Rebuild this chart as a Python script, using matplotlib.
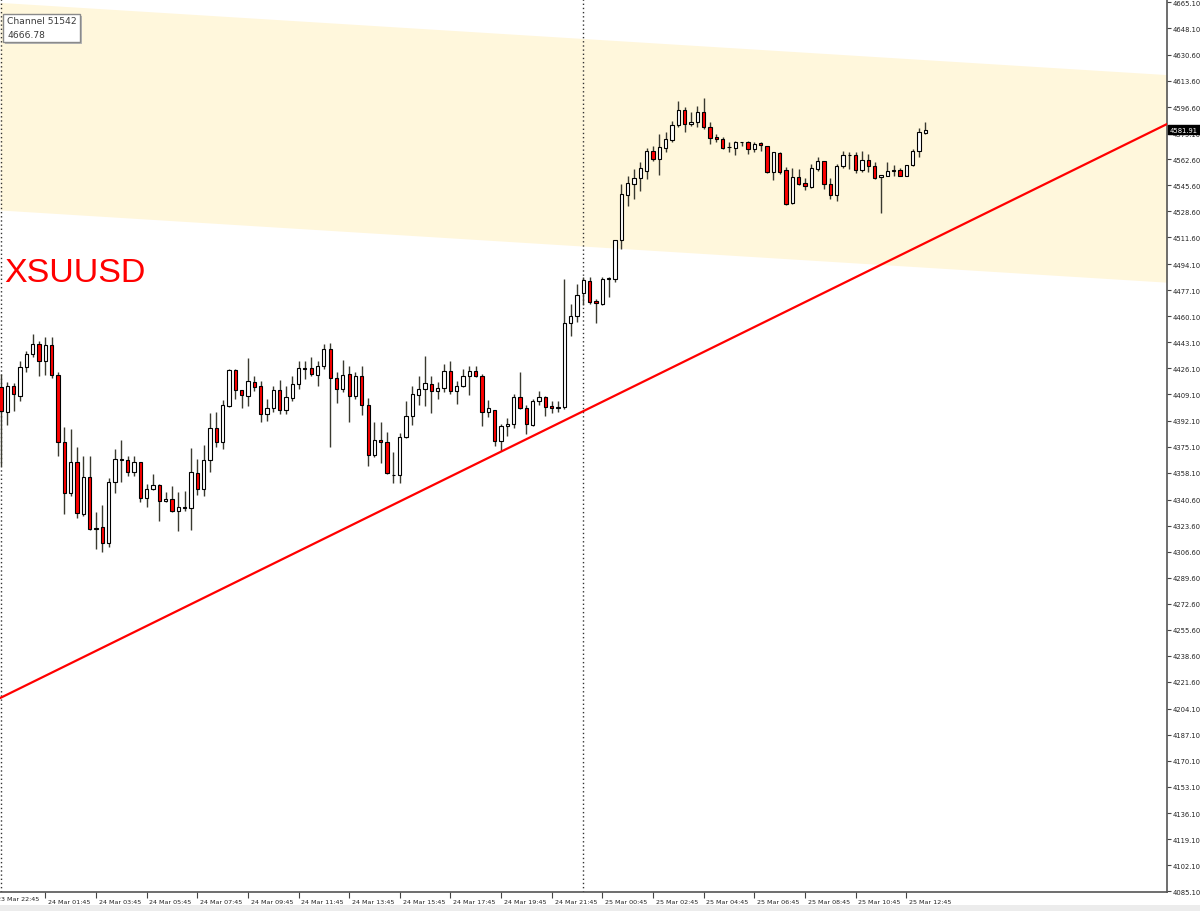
import numpy as np
import matplotlib.pyplot as plt
import matplotlib.transforms as mtransforms
from matplotlib.patches import Rectangle

symbol = "XSUUSD"

# 15 minute bars
opens = [4413.8, 4397.9, 4414.4, 4408.3, 4426.8, 4435.5, 4442.0, 4430.7, 4441.4, 4422.0,
         4378.3, 4344.7, 4364.9, 4331.2, 4355.1, 4321.4, 4322.5, 4312.0, 4352.2, 4366.8,
         4366.2, 4358.4, 4364.9, 4341.6, 4347.3, 4350.1, 4339.4, 4341.1, 4333.3, 4335.4,
         4334.9, 4358.1, 4347.5, 4366.2, 4387.1, 4377.9, 4401.8, 4424.9, 4412.2, 4408.1,
         4417.1, 4414.4, 4396.4, 4400.1, 4411.8, 4399.0, 4407.1, 4416.0, 4426.2, 4426.2,
         4422.0, 4427.9, 4438.8, 4419.7, 4412.7, 4422.5, 4407.9, 4421.0, 4402.4, 4369.8,
         4379.4, 4378.3, 4356.6, 4356.8, 4381.2, 4395.3, 4408.8, 4412.7, 4416.0, 4411.2,
         4413.1, 4424.6, 4411.6, 4414.4, 4421.0, 4424.2, 4421.0, 4397.5, 4399.0, 4378.6,
         4388.4, 4389.9, 4407.7, 4400.1, 4389.2, 4404.7, 4407.3, 4401.6, 4400.1, 4400.7,
         4455.5, 4460.1, 4475.3, 4483.2, 4470.3, 4468.1, 4484.4, 4484.4, 4509.9, 4539.2,
         4546.4, 4550.1, 4555.0, 4568.1, 4562.7, 4569.7, 4575.3, 4584.9, 4594.7, 4585.5,
         4587.0, 4593.2, 4583.8, 4576.9, 4575.8, 4570.4, 4569.7, 4573.8, 4574.0, 4569.2,
         4573.2, 4571.4, 4554.4, 4566.4, 4555.7, 4534.0, 4550.7, 4546.9, 4544.6, 4556.2,
         4561.4, 4546.4, 4539.2, 4558.3, 4565.3, 4565.3, 4555.7, 4562.3, 4557.9, 4550.7,
         4551.4, 4555.1, 4555.5, 4551.8, 4558.8, 4567.7, 4579.7]
highs = [4422.5, 4417.1, 4416.6, 4431.1, 4437.7, 4448.5, 4444.2, 4446.4, 4446.4, 4424.0,
         4387.7, 4386.6, 4374.6, 4369.2, 4369.2, 4332.3, 4337.0, 4354.5, 4373.5, 4379.4,
         4368.8, 4368.8, 4365.3, 4350.7, 4357.2, 4350.7, 4345.3, 4349.6, 4345.7, 4346.4,
         4374.0, 4367.0, 4376.2, 4397.0, 4397.5, 4405.7, 4425.7, 4425.7, 4412.2, 4432.7,
         4421.0, 4417.7, 4406.1, 4414.8, 4418.7, 4414.8, 4421.4, 4431.1, 4430.7, 4433.4,
         4431.1, 4442.0, 4442.7, 4423.6, 4431.8, 4427.9, 4423.6, 4427.9, 4406.6, 4391.0,
         4391.0, 4384.5, 4371.4, 4384.0, 4405.0, 4414.8, 4421.0, 4434.0, 4421.4, 4417.1,
         4429.0, 4431.1, 4418.1, 4425.7, 4427.9, 4427.9, 4422.5, 4405.5, 4399.0, 4389.9,
         4393.8, 4409.4, 4424.0, 4402.3, 4406.1, 4411.6, 4407.9, 4404.7, 4404.7, 4484.4,
         4468.1, 4481.2, 4485.8, 4485.5, 4471.4, 4485.5, 4485.5, 4509.9, 4546.4, 4551.4,
         4556.2, 4561.0, 4569.7, 4571.4, 4579.0, 4580.1, 4587.7, 4600.8, 4596.5, 4593.2,
         4597.5, 4602.3, 4586.6, 4579.0, 4576.9, 4573.6, 4574.7, 4574.0, 4574.7, 4574.0,
         4573.6, 4571.4, 4567.5, 4567.1, 4557.3, 4556.7, 4556.2, 4550.1, 4559.4, 4563.8,
         4561.6, 4550.1, 4559.4, 4568.1, 4567.1, 4567.5, 4568.1, 4566.0, 4560.6, 4552.3,
         4560.6, 4558.8, 4556.6, 4558.8, 4569.2, 4582.7, 4586.6]
lows = [4362.6, 4389.2, 4398.5, 4405.0, 4423.6, 4433.4, 4421.4, 4421.8, 4419.7, 4369.2,
        4331.2, 4343.1, 4328.5, 4330.1, 4320.9, 4308.3, 4306.2, 4309.4, 4344.8, 4352.2,
        4356.1, 4356.1, 4339.2, 4335.5, 4347.0, 4326.4, 4338.8, 4332.3, 4319.9, 4333.3,
        4320.9, 4343.5, 4343.1, 4358.7, 4374.6, 4373.5, 4400.8, 4406.2, 4400.1, 4401.8,
        4411.6, 4391.0, 4392.0, 4397.9, 4396.4, 4396.4, 4405.0, 4412.7, 4419.2, 4421.4,
        4414.8, 4425.7, 4374.6, 4403.5, 4410.5, 4390.9, 4406.1, 4395.9, 4362.3, 4368.1,
        4364.4, 4357.2, 4351.4, 4351.4, 4380.5, 4389.2, 4402.3, 4401.8, 4397.0, 4406.1,
        4410.5, 4409.4, 4402.9, 4413.8, 4408.8, 4420.3, 4388.4, 4394.2, 4375.3, 4372.0,
        4382.2, 4387.2, 4399.6, 4383.3, 4388.7, 4402.4, 4395.3, 4397.0, 4397.5, 4399.6,
        4447.5, 4456.2, 4467.5, 4468.1, 4455.7, 4467.5, 4472.5, 4482.7, 4504.0, 4532.3,
        4536.5, 4542.0, 4549.7, 4561.6, 4552.3, 4567.1, 4573.6, 4583.4, 4580.1, 4584.0,
        4583.4, 4582.3, 4572.5, 4573.6, 4569.2, 4567.1, 4565.5, 4571.4, 4566.0, 4567.1,
        4568.1, 4553.6, 4549.2, 4552.9, 4532.9, 4533.5, 4545.7, 4542.7, 4543.9, 4555.1,
        4543.1, 4536.6, 4535.5, 4556.6, 4556.2, 4553.6, 4554.4, 4554.4, 4549.7, 4527.5,
        4551.4, 4551.4, 4551.4, 4551.4, 4557.9, 4563.8, 4579.0]
closes = [4398.5, 4414.8, 4409.4, 4426.8, 4435.5, 4442.0, 4430.7, 4441.4, 4422.0, 4378.3,
          4344.7, 4364.9, 4331.6, 4355.1, 4321.4, 4322.2, 4312.0, 4351.8, 4367.0, 4366.6,
          4358.7, 4364.9, 4341.6, 4347.3, 4349.9, 4339.4, 4341.1, 4333.1, 4335.5, 4335.2,
          4358.7, 4347.5, 4366.2, 4387.1, 4377.9, 4402.1, 4424.9, 4412.2, 4408.6, 4417.9,
          4414.2, 4396.2, 4400.5, 4411.8, 4398.8, 4407.3, 4416.0, 4426.2, 4426.0, 4422.4,
          4427.5, 4438.8, 4419.7, 4412.7, 4421.8, 4408.3, 4421.0, 4402.4, 4369.8, 4379.4,
          4378.3, 4357.7, 4356.4, 4381.2, 4395.3, 4409.4, 4412.7, 4416.4, 4411.2, 4413.1,
          4424.6, 4411.6, 4414.4, 4421.0, 4424.6, 4421.4, 4397.5, 4400.1, 4378.6, 4388.4,
          4389.9, 4407.3, 4400.1, 4389.9, 4405.0, 4407.3, 4401.1, 4400.3, 4401.1, 4455.7,
          4460.1, 4474.2, 4483.8, 4469.7, 4468.6, 4484.4, 4484.9, 4509.9, 4539.9, 4546.9,
          4550.1, 4556.7, 4568.1, 4562.7, 4570.4, 4575.8, 4584.9, 4594.7, 4585.5, 4587.0,
          4593.2, 4583.4, 4576.4, 4575.8, 4569.7, 4570.3, 4574.0, 4574.0, 4569.2, 4572.5,
          4571.9, 4554.0, 4567.1, 4554.0, 4533.3, 4550.7, 4546.4, 4544.9, 4556.7, 4561.4,
          4546.4, 4539.2, 4558.3, 4565.3, 4565.2, 4555.7, 4562.3, 4558.3, 4550.1, 4552.3,
          4555.1, 4555.2, 4551.8, 4558.8, 4567.7, 4580.1, 4581.91]

time_ticks = [-1, 7, 15, 23, 31, 39, 47, 55, 63, 71, 79, 87, 95, 103, 111, 119, 127, 135, 143]
time_labels = ["23 Mar 22:45", "24 Mar 01:45", "24 Mar 03:45", "24 Mar 05:45", "24 Mar 07:45",
               "24 Mar 09:45", "24 Mar 11:45", "24 Mar 13:45", "24 Mar 15:45", "24 Mar 17:45",
               "24 Mar 19:45", "24 Mar 21:45", "25 Mar 00:45", "25 Mar 02:45", "25 Mar 04:45",
               "25 Mar 06:45", "25 Mar 08:45", "25 Mar 10:45", "25 Mar 12:45"]
price_ticks = [4665.10, 4648.10, 4630.60, 4613.60, 4596.60, 4579.10, 4562.60, 4545.60, 4528.60,
               4511.60, 4494.10, 4477.10, 4460.10, 4443.10, 4426.10, 4409.10, 4392.10, 4375.10,
               4358.10, 4340.60, 4323.60, 4306.60, 4289.60, 4272.60, 4255.60, 4238.60, 4221.60,
               4204.10, 4187.10, 4170.10, 4153.10, 4136.10, 4119.10, 4102.10, 4085.10]

day_separators = [0, 92]
channel_bars = [0, 184]
channel_top = [4664.8, 4617.8]
channel_bottom = [4529.4, 4482.4]
trend_bars = [0, 184]
trend_prices = [4211.4, 4585.1]
last_price = 4581.91

XMIN, XMAX = -0.16, 184.2

fig = plt.figure(figsize=(12, 9.12), dpi=100)
ax = fig.add_axes([0, 19 / 912, 1167 / 1200, 893 / 912])

# axes styling first (set_xticks would widen the view)
for side in ["left", "top"]:
    ax.spines[side].set_visible(False)
for side in ["right", "bottom"]:
    ax.spines[side].set_color("#555555")
    ax.spines[side].set_linewidth(1.2)
ax.yaxis.tick_right()
ax.set_yticks(price_ticks)
ax.set_yticklabels([f"{v:.2f}" for v in price_ticks])
ax.tick_params(axis="y", direction="out", length=3, width=0.8, color="#444444",
               labelsize=4.9, pad=1, labelcolor="#222222")
ax.set_xticks(time_ticks[1:])
ax.set_xticklabels(time_labels[1:])
ax.tick_params(axis="x", direction="out", length=4, width=0.8, color="#444444",
               labelsize=4.6, pad=0.8, labelcolor="#222222")
offset = mtransforms.ScaledTranslation(2 / 72, 0, fig.dpi_scale_trans)
for lbl in ax.get_xticklabels():
    lbl.set_horizontalalignment("left")
    lbl.set_transform(lbl.get_transform() + offset)

ax.set_xlim(XMIN, XMAX)
ax.set_ylim(4084.6, 4667.06)

# first time label sits left of the view, cut at the edge
ax.text(time_ticks[0], -0.0045, time_labels[0],
        transform=mtransforms.blended_transform_factory(ax.transData, ax.transAxes) + offset,
        fontsize=4.6, color="#222222", ha="left", va="top", clip_on=False)

# channel (filled) extended over the whole view
xl = np.array([XMIN, XMAX])
slope_t = (channel_top[1] - channel_top[0]) / (channel_bars[1] - channel_bars[0])
slope_b = (channel_bottom[1] - channel_bottom[0]) / (channel_bars[1] - channel_bars[0])
ax.fill_between(xl, channel_top[0] + slope_t * (xl - channel_bars[0]),
                channel_bottom[0] + slope_b * (xl - channel_bars[0]),
                color="#FFF7DC", lw=0, zorder=0)

for s in day_separators:
    ax.axvline(s, color="#333333", lw=1, ls=(0, (1, 2)), zorder=1)

# candles
idx = np.arange(len(opens))
o = np.array(opens); h = np.array(highs); l = np.array(lows); c = np.array(closes)
ax.vlines(idx, l, h, color="#3a3a30", lw=1, zorder=2)
up = c >= o
ax.bar(idx[up], (c - o)[up], bottom=o[up], width=0.52, color="white",
       edgecolor="black", lw=0.8, zorder=3)
ax.bar(idx[~up], (o - c)[~up], bottom=c[~up], width=0.52, color="#FF0000",
       edgecolor="black", lw=0.8, zorder=3)

# trend line
tslope = (trend_prices[1] - trend_prices[0]) / (trend_bars[1] - trend_bars[0])
ax.plot(xl, trend_prices[0] + tslope * (xl - trend_bars[0]), color="#FF0000", lw=1.6, zorder=4)
ax.set_xlim(XMIN, XMAX)

ax.text(0.004, 0.684, symbol, transform=ax.transAxes, color="#FF0000",
        fontsize=24.5, family="Liberation Sans", va="baseline", ha="left")

# last price marker
ax.text(1.0025, last_price, f"{last_price:.2f}",
        transform=mtransforms.blended_transform_factory(ax.transAxes, ax.transData),
        color="white", fontsize=4.9, va="center", ha="left", clip_on=False, zorder=6,
        bbox=dict(boxstyle="square,pad=0.25", fc="black", ec="black"))

# tooltip
fig.patches.append(Rectangle((5 / 1200, 1 - 45 / 912), 77 / 1200, 28 / 912,
                             transform=fig.transFigure, fc="#b8b8b8", ec="none", zorder=9))
fig.patches.append(Rectangle((3 / 1200, 1 - 43 / 912), 77 / 1200, 28 / 912,
                             transform=fig.transFigure, fc="white", ec="#8a8a8a", lw=1, zorder=10))
fig.text(7 / 1200, 1 - 22 / 912, "Channel 51542", fontsize=6.6, color="#3a3a3a",
         va="center", ha="left", zorder=11)
fig.text(7 / 1200, 1 - 36 / 912, "4666.78", fontsize=6.6, color="#3a3a3a",
         va="center", ha="left", zorder=11)

fig.patches.append(Rectangle((0, 0), 1, 6 / 912, transform=fig.transFigure,
                             fc="#ececec", ec="none", zorder=0))

fig.savefig("out.png", dpi=100)
